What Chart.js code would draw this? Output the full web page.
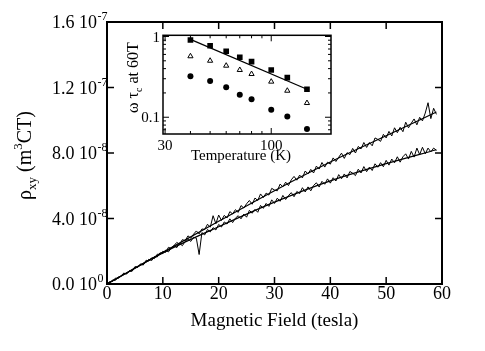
<!DOCTYPE html>
<html>
<head>
<meta charset="utf-8">
<script src="https://cdn.jsdelivr.net/npm/chart.js@4.4.0/dist/chart.umd.min.js"></script>
<style>
  body { margin: 0; background: #fff; }
  #wrap { position: relative; width: 485px; height: 351px; }
  #mainChart { position: absolute; left: 0; top: 0; }
  #insetChart { position: absolute; left: 120px; top: 28px; }
</style>
</head>
<body>
<div id="wrap">
  <canvas id="mainChart" width="485" height="351"></canvas>
  <canvas id="insetChart" width="220" height="140"></canvas>
</div>
<script>
// main panel: Hall resistivity (units of 1e-8 m^3/C) vs field (tesla)
const FIELD_T = [0, 0.5, 1, 1.5, 2, 2.5, 3, 3.5, 4, 4.5, 5, 5.5, 6, 6.5, 7, 7.5, 8, 8.5, 9, 9.5, 10,
  10.5, 11, 11.5, 12, 12.5, 13, 13.5, 14, 14.5, 15, 15.5, 16, 16.5, 17, 17.5, 18, 18.5, 19, 19.5, 20,
  20.5, 21, 21.5, 22, 22.5, 23, 23.5, 24, 24.5, 25, 25.5, 26, 26.5, 27, 27.5, 28, 28.5, 29, 29.5, 30,
  30.5, 31, 31.5, 32, 32.5, 33, 33.5, 34, 34.5, 35, 35.5, 36, 36.5, 37, 37.5, 38, 38.5, 39, 39.5, 40,
  40.5, 41, 41.5, 42, 42.5, 43, 43.5, 44, 44.5, 45, 45.5, 46, 46.5, 47, 47.5, 48, 48.5, 49, 49.5, 50,
  50.5, 51, 51.5, 52, 52.5, 53, 53.5, 54, 54.5, 55, 55.5, 56, 56.5, 57, 57.5, 58, 58.5, 59];
const RHO_UPPER = [0, 0.15, 0.16, 0.36, 0.34, 0.50, 0.66, 0.62, 0.81, 0.80, 1.06, 1.03, 1.18, 1.17, 1.45, 1.41, 1.60, 1.55, 1.82, 1.81, 2.00,
  1.93, 2.24, 2.17, 2.35, 2.54, 2.42, 2.71, 2.64, 2.94, 2.80, 3.04, 3.24, 3.06, 3.36, 3.33, 3.65, 3.47, 4.17, 3.68, 4.21,
  3.88, 4.19, 4.03, 4.42, 4.28, 4.54, 4.37, 4.79, 4.64, 4.90, 5.10, 4.87, 5.25, 5.10, 5.50, 5.28, 5.55, 5.43, 5.84, 5.74,
  5.69, 6.10, 5.94, 6.22, 6.01, 6.36, 6.57, 6.34, 6.65, 6.48, 6.90, 6.72, 7.00, 6.78, 7.20, 7.02, 7.42, 7.14, 7.44, 7.32,
  7.70, 7.48, 7.74, 7.99, 7.67, 8.02, 7.90, 8.28, 8.00, 8.40, 8.25, 8.64, 8.34, 8.64, 8.44, 8.92, 8.83, 8.71, 9.14, 8.92,
  9.32, 9.04, 9.54, 9.24, 9.57, 9.30, 9.88, 9.54, 9.82, 10.08, 9.72, 10.18, 9.96, 10.44, 11.07, 10.10, 10.73, 10.36];
const RHO_LOWER = [0, 0.06, 0.25, 0.22, 0.43, 0.46, 0.65, 0.61, 0.79, 0.78, 1.02, 1.01, 1.23, 1.17, 1.35, 1.51, 1.43, 1.67, 1.65, 1.91, 1.85,
  2.06, 1.96, 2.19, 2.34, 2.22, 2.48, 2.34, 2.60, 2.76, 2.60, 2.86, 2.80, 1.80, 3.14, 3.00, 3.33, 3.18, 3.44, 3.30, 3.64,
  3.48, 3.79, 3.66, 3.98, 3.75, 4.02, 4.17, 3.98, 4.27, 4.08, 4.50, 4.32, 4.56, 4.38, 4.80, 4.62, 4.92, 4.74, 5.14, 4.92,
  5.24, 5.05, 5.41, 5.16, 5.40, 5.58, 5.33, 5.65, 5.52, 5.88, 5.62, 5.93, 5.69, 6.02, 6.18, 5.92, 6.27, 6.09, 6.42, 6.16,
  6.49, 6.29, 6.68, 6.43, 6.72, 6.48, 6.87, 6.77, 6.62, 7.01, 6.78, 7.17, 6.86, 7.14, 6.93, 7.34, 7.13, 7.41, 7.16, 7.55,
  7.26, 7.63, 7.40, 7.77, 7.44, 7.77, 7.95, 7.63, 8.10, 7.75, 8.30, 7.90, 8.35, 7.95, 8.30, 8.07, 8.30, 8.16];
const FIT_FIELD = [0, 10, 20, 30, 40, 50, 59];
const FIT_UPPER = [0, 1.93, 3.83, 5.7, 7.45, 9.05, 10.5];
const FIT_LOWER = [0, 1.9, 3.5, 5.0, 6.3, 7.35, 8.2];

const X_TICKS = [0, 10, 20, 30, 40, 50, 60];
const Y_TICKS = [0, 4, 8, 12, 16];
const Y_TICK_MANT = ['0.0', '4.0', '8.0', '1.2', '1.6'];
const Y_TICK_EXP = ['0', '-8', '-8', '-7', '-7'];

// inset: omega_c tau at 60 T vs temperature
const TEMPS = [40, 50, 60, 70, 80, 100, 120, 150];
const WT_SQUARE = [0.905, 0.769, 0.656, 0.553, 0.488, 0.385, 0.309, 0.222];
const WT_TRIANGLE = [0.569, 0.501, 0.435, 0.385, 0.343, 0.276, 0.213, 0.150];
const WT_CIRCLE = [0.322, 0.281, 0.235, 0.19, 0.167, 0.124, 0.102, 0.0716];
const WT_FIT_T = [40, 150];
const WT_FIT = [0.92, 0.222];

const INSET_X_MAJOR = [30, 100];
const INSET_X_MINOR = [40, 50, 60, 70, 80, 90];
const INSET_Y_MAJOR = [0.1, 1];
const INSET_Y_MINOR = [0.07, 0.08, 0.09, 0.2, 0.3, 0.4, 0.5, 0.6, 0.7, 0.8, 0.9];
const INSET_X_LABELS = ['30', '100'];
const INSET_Y_LABELS = ['0.1', '1'];

const SERIF = '"Liberation Serif", "Times New Roman", serif';

const pts = (xs, ys) => xs.map((v, i) => ({x: v, y: ys[i]}));

function line(ctx, x1, y1, x2, y2) {
    ctx.beginPath();
    ctx.moveTo(x1, y1);
    ctx.lineTo(x2, y2);
    ctx.stroke();
}

const mainDecor = {
    id: 'mainDecor',
    afterDraw(chart) {
        const {ctx, chartArea: a, scales: {x, y}} = chart;
        ctx.save();
        ctx.strokeStyle = '#000';
        ctx.fillStyle = '#000';
        ctx.lineWidth = 2;
        ctx.strokeRect(a.left, a.top, a.right - a.left, a.bottom - a.top);
        ctx.lineWidth = 1.5;
        X_TICKS.forEach(v => {
            const px = x.getPixelForValue(v);
            line(ctx, px, a.bottom, px, a.bottom - 7);
            line(ctx, px, a.top, px, a.top + 7);
        });
        Y_TICKS.forEach(v => {
            const py = y.getPixelForValue(v);
            line(ctx, a.left, py, a.left + 7, py);
            line(ctx, a.right, py, a.right - 7, py);
        });

        // x tick labels
        ctx.font = '18px ' + SERIF;
        ctx.textAlign = 'center';
        ctx.textBaseline = 'alphabetic';
        X_TICKS.forEach(v => ctx.fillText(String(v), x.getPixelForValue(v), 299));

        // y tick labels with superscript exponent
        Y_TICKS.forEach((v, i) => {
            const py = y.getPixelForValue(v);
            ctx.font = '18px ' + SERIF;
            ctx.textAlign = 'right';
            ctx.fillText(Y_TICK_MANT[i] + ' 10', 97, py + 6);
            ctx.font = '12px ' + SERIF;
            ctx.textAlign = 'left';
            ctx.fillText(Y_TICK_EXP[i], 97.5, py - 2);
        });

        // x title
        ctx.font = '19px ' + SERIF;
        ctx.textAlign = 'center';
        ctx.fillText('Magnetic Field (tesla)', (a.left + a.right) / 2, 326);

        // y title, rotated
        ctx.translate(31, 200);
        ctx.rotate(-Math.PI / 2);
        ctx.textAlign = 'left';
        let cx = 0;
        const part = (txt, size, dy) => {
            ctx.font = size + 'px ' + SERIF;
            ctx.fillText(txt, cx, dy);
            cx += ctx.measureText(txt).width;
        };
        part('\u03c1', 20, 0);
        part('xy', 13, 5);
        part(' (m', 20, 0);
        part('3', 13, -9);
        part('CT)', 20, 0);
        ctx.restore();
    }
};

new Chart(document.getElementById('mainChart'), {
    type: 'scatter',
    data: {
        datasets: [
            {data: pts(FIELD_T, RHO_UPPER), showLine: true, borderColor: '#000', borderWidth: 1, pointRadius: 0},
            {data: pts(FIELD_T, RHO_LOWER), showLine: true, borderColor: '#000', borderWidth: 1, pointRadius: 0},
            {data: pts(FIT_FIELD, FIT_UPPER), showLine: true, borderColor: '#000', borderWidth: 1.2, pointRadius: 0, cubicInterpolationMode: 'monotone'},
            {data: pts(FIT_FIELD, FIT_LOWER), showLine: true, borderColor: '#000', borderWidth: 1.2, pointRadius: 0, cubicInterpolationMode: 'monotone'}
        ]
    },
    options: {
        responsive: false,
        animation: false,
        events: [],
        layout: {padding: {left: 107, top: 22, right: 43, bottom: 67}},
        plugins: {legend: {display: false}, tooltip: {enabled: false}},
        scales: {
            x: {type: 'linear', min: 0, max: 60, display: false},
            y: {type: 'linear', min: 0, max: 16, display: false}
        }
    },
    plugins: [mainDecor]
});

const insetDecor = {
    id: 'insetDecor',
    afterDraw(chart) {
        const {ctx, chartArea: a, scales: {x, y}} = chart;
        ctx.save();
        ctx.strokeStyle = '#000';
        ctx.fillStyle = '#000';
        ctx.lineWidth = 1.5;
        ctx.strokeRect(a.left, a.top, a.right - a.left, a.bottom - a.top);
        ctx.lineWidth = 1;
        const xt = (v, len) => {
            const px = x.getPixelForValue(v);
            line(ctx, px, a.bottom, px, a.bottom - len);
            line(ctx, px, a.top, px, a.top + len);
        };
        const yt = (v, len) => {
            const py = y.getPixelForValue(v);
            line(ctx, a.left, py, a.left + len, py);
            line(ctx, a.right, py, a.right - len, py);
        };
        INSET_X_MAJOR.forEach(v => xt(v, 6));
        INSET_X_MINOR.forEach(v => xt(v, 3));
        INSET_Y_MAJOR.forEach(v => yt(v, 6));
        INSET_Y_MINOR.forEach(v => yt(v, 3));

        ctx.font = '15px ' + SERIF;
        ctx.textAlign = 'center';
        INSET_X_MAJOR.forEach((v, i) => ctx.fillText(INSET_X_LABELS[i], x.getPixelForValue(v), 122));
        ctx.textAlign = 'right';
        INSET_Y_MAJOR.forEach((v, i) => ctx.fillText(INSET_Y_LABELS[i], 40, y.getPixelForValue(v) + 5));

        ctx.textAlign = 'center';
        ctx.fillText('Temperature (K)', 121, 132);

        ctx.translate(18, 85);
        ctx.rotate(-Math.PI / 2);
        ctx.textAlign = 'left';
        let cx = 0;
        const part = (txt, size, dy) => {
            ctx.font = size + 'px ' + SERIF;
            ctx.fillText(txt, cx, dy);
            cx += ctx.measureText(txt).width;
        };
        part('\u03c9 \u03c4', 16, 0);
        part('c', 10, 4);
        part(' at 60T', 16, 0);
        ctx.restore();
    }
};

new Chart(document.getElementById('insetChart'), {
    type: 'scatter',
    data: {
        datasets: [
            {data: pts(WT_FIT_T, WT_FIT), showLine: true, borderColor: '#000', borderWidth: 1.3, pointRadius: 0},
            {data: pts(TEMPS, WT_SQUARE), pointStyle: 'rect', pointRadius: 4, backgroundColor: '#000', borderColor: '#000', borderWidth: 0},
            {data: pts(TEMPS, WT_TRIANGLE), pointStyle: 'triangle', pointRadius: 3, backgroundColor: '#fff', borderColor: '#000', borderWidth: 1},
            {data: pts(TEMPS, WT_CIRCLE), pointStyle: 'circle', pointRadius: 3, backgroundColor: '#000', borderColor: '#000', borderWidth: 0}
        ]
    },
    options: {
        responsive: false,
        animation: false,
        events: [],
        layout: {padding: {left: 43, top: 7.3, right: 9, bottom: 34}},
        plugins: {legend: {display: false}, tooltip: {enabled: false}},
        scales: {
            x: {type: 'logarithmic', min: 29.3, max: 197, display: false},
            y: {type: 'logarithmic', min: 0.062, max: 1.035, display: false}
        }
    },
    plugins: [insetDecor]
});
</script>
</body>
</html>
